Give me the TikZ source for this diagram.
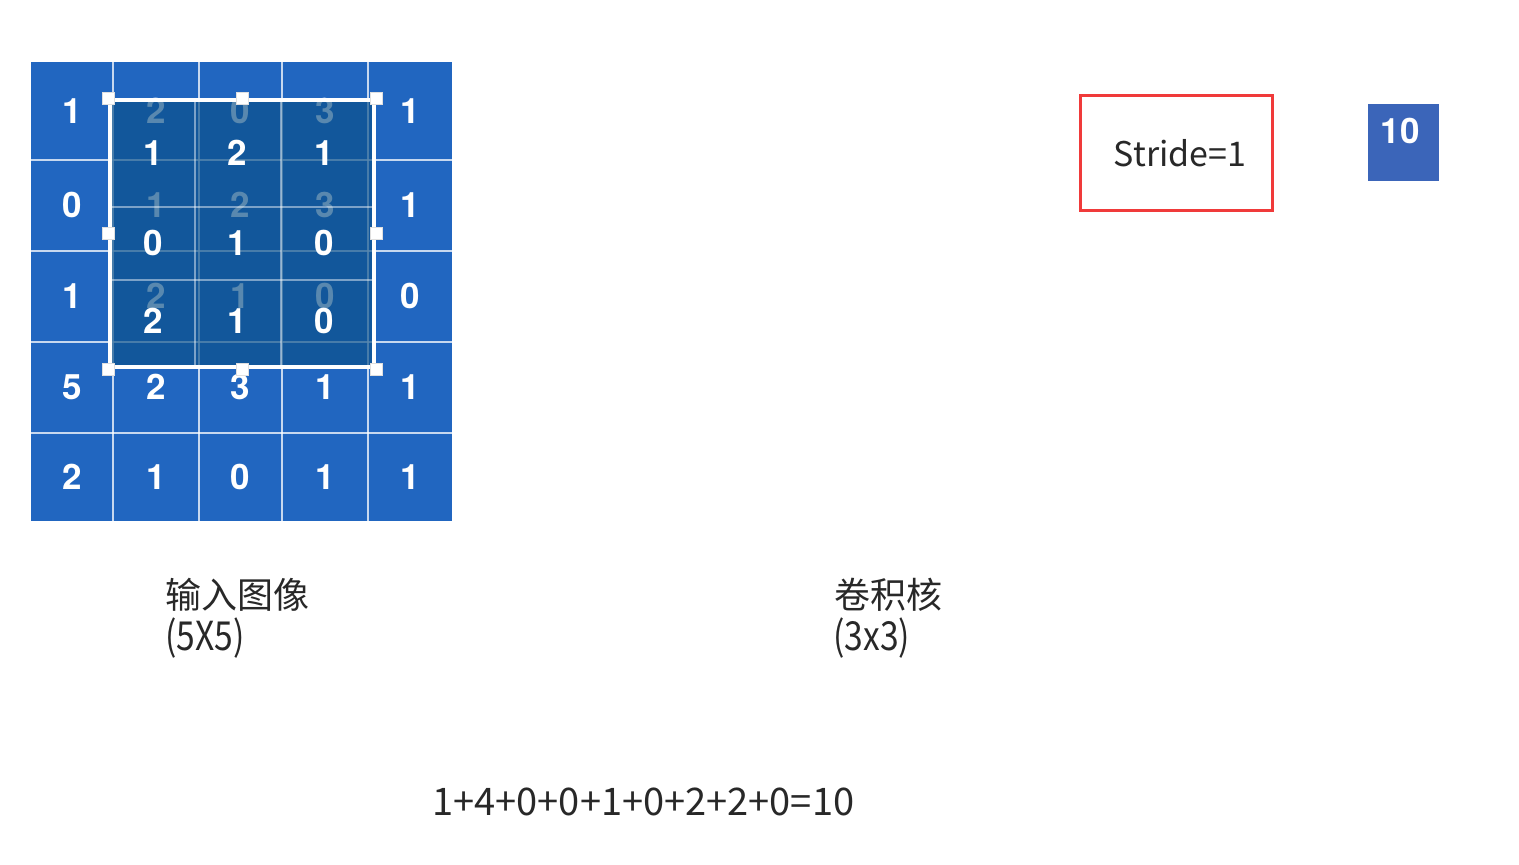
\documentclass[tikz,border=0pt]{standalone}
\usepackage{fontspec}
\setmainfont{Noto Sans CJK SC}
\newfontfamily\numfont{TeX Gyre Heros}
\newfontfamily\narrowfont{Noto Sans CJK SC}[FakeStretch=0.84]
\usetikzlibrary{positioning}

\definecolor{gridblue}{RGB}{33,102,192}
\definecolor{kernblue}{RGB}{11,81,138}
\definecolor{outblue}{RGB}{59,101,185}
\definecolor{strideRed}{RGB}{240,58,58}
\definecolor{txtgray}{RGB}{40,40,40}

\tikzset{
  num/.style={text=white, font=\numfont\bfseries\fontsize{17.5}{17.5}\selectfont, inner sep=0pt},
  gridline/.style={white, opacity=0.75, line width=0.9pt},
  kernline/.style={white, opacity=0.45, line width=0.6pt},
  handle/.style={fill=white, draw=gray!25, line width=0.3pt, minimum size=6pt, inner sep=0pt},
  lbl/.style={text=txtgray, font=\fontsize{18}{22}\selectfont, inner sep=0pt, anchor=west},
  sizelbl/.style={lbl, font=\narrowfont\fontsize{20}{24}\selectfont},
}

\begin{document}
\begin{tikzpicture}[x=0.5pt, y=-0.5pt]
\useasboundingbox (0,0) rectangle (1519,865);

% input image 5x5
\fill[gridblue] (31,62) rectangle (452,521);
\foreach \x in {113,199,282,368} \draw[gridline] (\x,62) -- (\x,521);
\foreach \y in {160,251,342,433} \draw[gridline] (31,\y) -- (452,\y);
\foreach \r/\y/\vals in {1/111/{1,2,0,3,1}, 2/205/{0,1,2,3,1}, 3/296/{1,2,1,0,0},
                         4/387/{5,2,3,1,1}, 5/477/{2,1,0,1,1}} {
  \foreach \v [count=\c] in \vals {
    \pgfmathtruncatemacro\xc{{72,156,240,325,410}[\c-1]}
    \node[num] (in-\r-\c) at (\xc,\y) {\v};
  }
}

% kernel 3x3 over the image
\fill[kernblue, fill opacity=0.68] (111,101) rectangle (373,366);
\foreach \x in {195,281} \draw[kernline] (\x,101) -- (\x,366);
\foreach \y in {207,280} \draw[kernline] (111,\y) -- (373,\y);
\foreach \r/\y/\vals in {1/153/{1,2,1}, 2/243/{0,1,0}, 3/321/{2,1,0}} {
  \foreach \v [count=\c] in \vals {
    \pgfmathtruncatemacro\xc{{153,237,324}[\c-1]}
    \node[num] (k-\r-\c) at (\xc,\y) {\v};
  }
}
\node[draw=white, line width=2pt, inner sep=0pt, minimum width=132pt, minimum height=133.5pt] (kern) at (242,233.5) {};
\foreach \a [count=\i] in {north west,north,north east,west,east,south west,south,south east}
  \node[handle] (h\i) at (kern.\a) {};

% labels
\node[lbl] (in-title) at (165,595) {输入图像};
\node[sizelbl] (in-size) at (165,638) {(5X5)};
\node[lbl] (k-title) at (834,595) {卷积核};
\node[sizelbl] (k-size) at (833,638) {(3x3)};
\node[lbl, font=\fontsize{19}{23}\selectfont] (sum) at (432,802) {1+4+0+0+1+0+2+2+0=10};

% stride and output
\node[draw=strideRed, line width=1.5pt, minimum width=96pt, minimum height=57.5pt,
      text=txtgray, font=\fontsize{17}{21}\selectfont] (stride) at (1176,153.5) {\hspace{4pt}Stride=1};
\node[fill=outblue, inner sep=0pt, minimum width=35.5pt, minimum height=38.5pt] (out) at (1403.5,142.5) {};
\node[num] (out-val) at (1400,131) {10};
\end{tikzpicture}
\end{document}
